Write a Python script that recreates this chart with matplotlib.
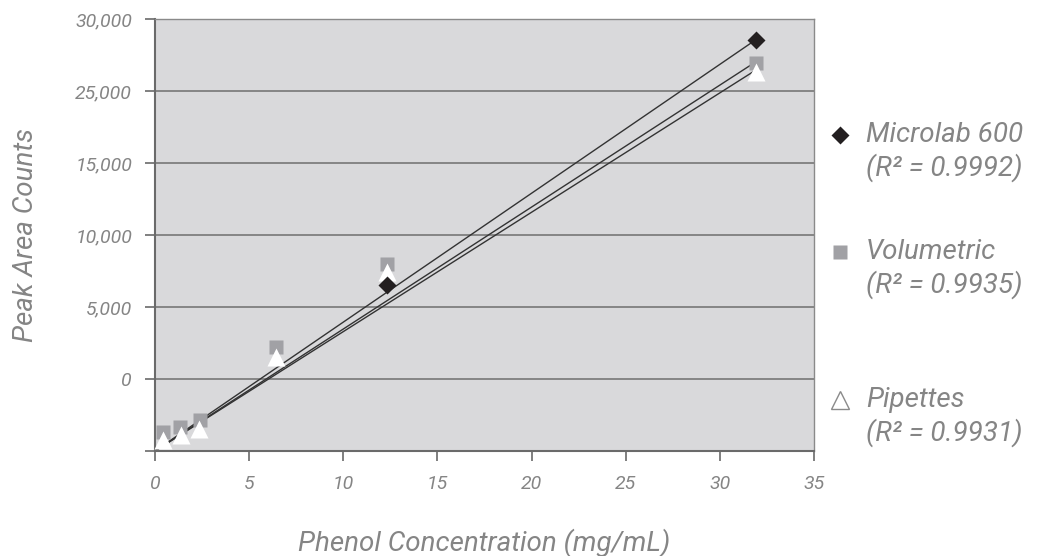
import matplotlib
matplotlib.use("Agg")
import matplotlib.pyplot as plt
import numpy as np

# ---- data ----
micro_x = [12.3, 31.9]
micro_y = [11530, 28540]
vol_x = [0.4, 1.35, 2.4, 6.4, 12.3, 31.9]
vol_y = [1320, 1670, 2150, 7240, 13010, 26940]
pip_x = [0.4, 1.4, 2.35, 6.4, 12.3, 31.9]
pip_y = [760, 1110, 1530, 6550, 12400, 26300]

# trend lines (slope per mg/mL, intercept), drawn from x=0 to last x
fit_slope = {"micro": 895.0, "vol": 847.0, "pip": 829.0}
fit_intercept = {"micro": 0.0, "vol": 0.0, "pip": 0.0}
fit_x_range = [0.0, 31.9]

x_ticks = [0, 5, 10, 15, 20, 25, 30, 35]
y_ticks = [0, 5000, 10000, 15000, 20000, 25000, 30000]
y_tick_labels = ["", "0", "5,000", "10,000", "15,000", "25,000", "30,000"]

legend_names = ["Microlab 600", "Volumetric", "Pipettes"]
legend_r2 = ["(R² = 0.9992)", "(R² = 0.9935)", "(R² = 0.9931)"]

TEXT = "#858585"
FONT = ["Roboto", "DejaVu Sans"]
plt.rcParams["font.family"] = FONT
W = "normal"

fig = plt.figure(figsize=(10.38, 5.56), dpi=100)
ax = fig.add_axes([155/1038, 105/556, 659/1038, 432/556])
ax.set_facecolor("#d9d9db")
ax.set_xlim(0, 35)
ax.set_ylim(0, 30000)

for v in y_ticks[1:]:
    ax.axhline(v, color="#7f7f7f", lw=1.3, zorder=1)

xs = np.array(fit_x_range)
for key in ["micro", "vol", "pip"]:
    ax.plot(xs, fit_slope[key] * xs + fit_intercept[key], color="#333333", lw=1.0, zorder=2)

ax.plot(vol_x, vol_y, ls="none", marker="s", ms=10, mfc="#a1a1a5", mec="none", zorder=3, clip_on=False)
ax.plot(pip_x, pip_y, ls="none", marker="^", ms=13, mfc="white", mec="none", zorder=4, clip_on=False)
ax.plot(micro_x, micro_y, ls="none", marker="D", ms=9.5, mfc="#231f20", mec="none", zorder=5, clip_on=False)

for s in ["top", "right"]:
    ax.spines[s].set_color("#8a8a8a")
    ax.spines[s].set_linewidth(1.0)
for s in ["left", "bottom"]:
    ax.spines[s].set_color("#6a6a6a")
    ax.spines[s].set_linewidth(1.5)

ax.set_xticks(x_ticks)
ax.set_xticklabels([str(t) for t in x_ticks])
ax.set_yticks(y_ticks)
ax.set_yticklabels(y_tick_labels)
ax.tick_params(axis="both", direction="out", length=7.5, width=1.2, color="#6a6a6a",
               labelcolor=TEXT, labelsize=14)
ax.tick_params(axis="x", pad=10)
ax.tick_params(axis="y", pad=9)
for lab in ax.get_xticklabels() + ax.get_yticklabels():
    lab.set_fontstyle("italic")
    lab.set_fontweight(W)

ax.set_xlabel("Phenol Concentration (mg/mL)", fontsize=20, color=TEXT, style="italic",
              fontweight=W, labelpad=25)
ax.set_ylabel("Peak Area Counts", fontsize=20, color=TEXT, style="italic",
              fontweight=W, labelpad=26)

# legend (manual)
leg_y = [135, 252, 400]
markers = [dict(marker="D", ms=9.5, mfc="#231f20", mec="none"),
           dict(marker="s", ms=10, mfc="#a1a1a5", mec="none"),
           dict(marker="^", ms=13, mfc="none", mec="#8a8a8a", mew=1.0)]
for i in range(3):
    yf = 1 - leg_y[i] / 556
    fig.lines.append(plt.Line2D([840/1038], [yf], transform=fig.transFigure, ls="none", **markers[i]))
    fig.text(866/1038, yf, legend_names[i], fontsize=20, color=TEXT, style="italic",
             fontweight=W, va="center", ha="left")
    fig.text(866/1038, 1 - (leg_y[i] + 33) / 556, legend_r2[i], fontsize=20, color=TEXT,
             style="italic", fontweight=W, va="center", ha="left")

fig.savefig("out.png", dpi=100)
